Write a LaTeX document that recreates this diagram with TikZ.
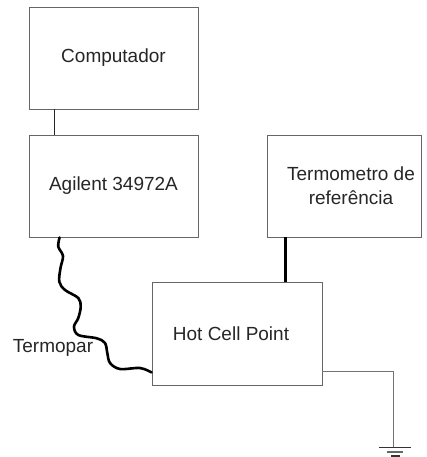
\documentclass[tikz,border=0pt]{standalone}
\usepackage{fontspec}
\setmainfont{Liberation Sans}
\begin{document}
\begin{tikzpicture}[x=1pt,y=-1pt,
  box/.style={draw=black!60, line width=0.9pt, inner sep=0pt, align=center,
    font=\fontsize{19}{24}\selectfont, text=black!85},
  thin wire/.style={draw=black!85, line width=0.9pt},
  thick wire/.style={draw=black, line width=2.6pt},
  gnd wire/.style={draw=black!55, line width=1pt}]
\useasboundingbox (0,0) rectangle (427,457);
\node[box, minimum width=169pt, minimum height=102pt] (co) at (113.5,58) {\raisebox{1pt}{Computador}};
\node[box, minimum width=169pt, minimum height=102pt] (ag) at (113.5,186) {\raisebox{-6pt}{Agilent 34972A}};
\node[box, minimum width=154pt, minimum height=102pt] (tm) at (344,186) {\hspace*{14pt}Termometro de\\\hspace*{14pt}referência};
\node[box, minimum width=170pt, minimum height=103pt] (hc) at (237,333.5) {\hspace*{-12pt}Hot Cell Point};
\node[font=\fontsize{19}{24}\selectfont, text=black!85] (tp) at (53,348) {Termopar};
% computer - agilent
\draw[thin wire] ([xshift=26pt]co.south west) -- ([xshift=26pt]co.south west |- ag.north);
% thermometer - hot cell
\draw[thick wire] ([xshift=19pt]tm.south west) -- ([xshift=19pt]tm.south west |- hc.north);
% thermocouple
\coordinate (w0) at ([xshift=31pt]ag.south west);
\coordinate (w1) at ([yshift=13pt]hc.south west);
\draw[thick wire, line cap=round] plot[smooth, tension=0.55] coordinates {(w0) (58.3,246.7) (63,256) (60.5,268) (59.3,281.7) (65,290) (78.3,298) (80.7,306.7) (78.3,318) (74,326.7) (78.3,335) (96.7,338.3) (105,343) (107.3,353) (110,363) (120,369) (140,368) (w1)};
% ground
\coordinate (g0) at ([yshift=14pt]hc.south east);
\coordinate (g1) at (393,447);
\draw[gnd wire] (g0) -- (g0 -| g1) -- (g1);
\draw[draw=black!80, line width=1pt] ([xshift=-14pt]g1) -- ([xshift=18pt]g1);
\draw[draw=black!60, line width=1.2pt] ([xshift=-6pt,yshift=-5pt]g1) -- ([xshift=10pt,yshift=-5pt]g1);
\draw[draw=black!80, line width=1.2pt] ([xshift=-2pt,yshift=-9pt]g1) -- ([xshift=7pt,yshift=-9pt]g1);
\end{tikzpicture}
\end{document}
